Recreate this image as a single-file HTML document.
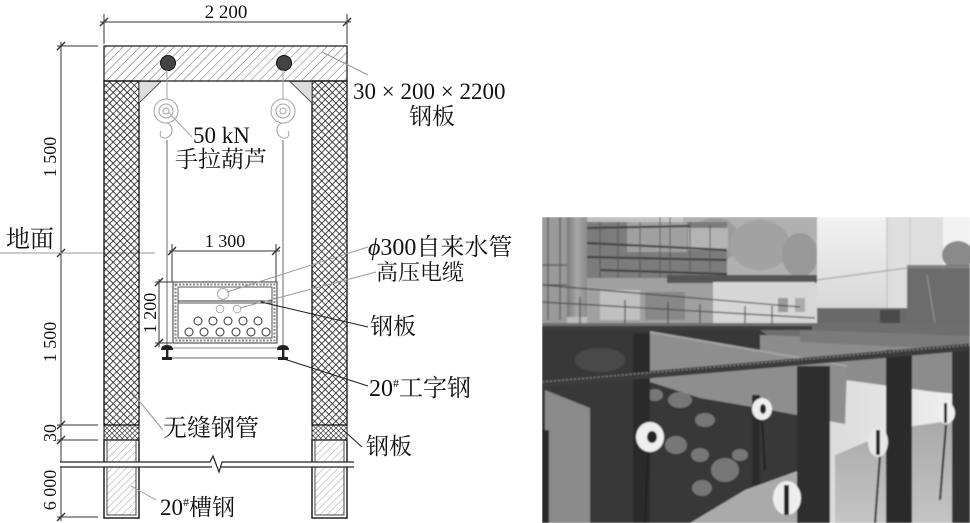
<!DOCTYPE html>
<html><head><meta charset="utf-8"><style>
html,body{margin:0;padding:0;background:#fff;}
svg{display:block;}
.t{font-family:"Liberation Serif","Noto Serif CJK SC",serif;fill:#111;}
</style></head><body>
<svg width="970" height="523" viewBox="0 0 970 523" xmlns="http://www.w3.org/2000/svg">
<defs>
<pattern id="cross" width="5" height="5" patternUnits="userSpaceOnUse" patternTransform="rotate(45)">
<path d="M0,0H5M0,0V5" stroke="#111" stroke-width="1.5"/>
</pattern>
<pattern id="crossd" width="3.6" height="3.6" patternUnits="userSpaceOnUse" patternTransform="rotate(45)">
<path d="M0,0H3.6M0,0V3.6" stroke="#111" stroke-width="1.1"/>
</pattern>
<pattern id="diag" width="6" height="6" patternUnits="userSpaceOnUse" patternTransform="rotate(45)">
<path d="M0,0V6" stroke="#555" stroke-width="0.9"/>
</pattern>
<pattern id="diag2" width="5" height="5" patternUnits="userSpaceOnUse" patternTransform="rotate(45)">
<path d="M0,0V5" stroke="#999" stroke-width="0.9"/>
</pattern>
<clipPath id="pc"><rect x="542" y="217" width="428" height="306"/></clipPath>
<filter id="bl"><feGaussianBlur stdDeviation="0.8"/></filter>
<linearGradient id="sky" x1="0" y1="0" x2="1" y2="0">
<stop offset="0" stop-color="#b8b8b8"/><stop offset="0.5" stop-color="#d0d0d0"/><stop offset="1" stop-color="#f0f0f0"/>
</linearGradient>
<linearGradient id="wb" x1="0" y1="0" x2="0" y2="1">
<stop offset="0" stop-color="#f2f2f2"/><stop offset="1" stop-color="#d6d6d6"/>
</linearGradient>
<linearGradient id="pil" x1="0" y1="0" x2="1" y2="0">
<stop offset="0" stop-color="#7a7a7a"/><stop offset="0.5" stop-color="#a8a8a8"/><stop offset="1" stop-color="#8a8a8a"/>
</linearGradient>
<linearGradient id="floor" x1="0" y1="0" x2="0" y2="1">
<stop offset="0" stop-color="#a8a8a8"/><stop offset="1" stop-color="#c4c4c4"/>
</linearGradient>
</defs>

<!-- top dimension -->
<g stroke="#333" stroke-width="1">
<line x1="100" y1="22" x2="351" y2="22"/>
<line x1="104" y1="14" x2="104" y2="44"/>
<line x1="347" y1="14" x2="347" y2="44"/>
<line x1="100" y1="26" x2="108" y2="18" stroke-width="1.4"/>
<line x1="343" y1="26" x2="351" y2="18" stroke-width="1.4"/>
</g>
<text class="t" x="226" y="18" font-size="19" text-anchor="middle">2 200</text>

<!-- left dimension -->
<g stroke="#333" stroke-width="1">
<line x1="61" y1="42" x2="61" y2="521"/>
<line x1="57" y1="46" x2="98" y2="46"/>
<line x1="57" y1="425" x2="98" y2="425"/>
<line x1="57" y1="440" x2="98" y2="440"/>
<line x1="57" y1="517" x2="98" y2="517"/>
<line x1="57" y1="50" x2="65" y2="42" stroke-width="1.4"/>
<line x1="57" y1="257" x2="65" y2="249" stroke-width="1.4"/>
<line x1="57" y1="429" x2="65" y2="421" stroke-width="1.4"/>
<line x1="57" y1="444" x2="65" y2="436" stroke-width="1.4"/>
<line x1="57" y1="521" x2="65" y2="513" stroke-width="1.4"/>
</g>
<line x1="0" y1="253" x2="155" y2="253" stroke="#999" stroke-width="1"/>
<text class="t" font-size="18" text-anchor="middle" transform="translate(56,157) rotate(-90)">1 500</text>
<text class="t" font-size="18" text-anchor="middle" transform="translate(56,342) rotate(-90)">1 500</text>
<text class="t" font-size="18" text-anchor="middle" transform="translate(56,433) rotate(-90)">30</text>
<text class="t" font-size="18" text-anchor="middle" transform="translate(56,490) rotate(-90)">6 000</text>
<text class="t" x="6" y="247" font-size="24">地面</text>

<!-- beam -->
<rect x="104" y="46" width="243" height="35" fill="#fff"/>
<rect x="104" y="46" width="243" height="35" fill="url(#diag)" stroke="#222" stroke-width="1.3"/>
<circle cx="168" cy="63" r="7.5" fill="#444" stroke="#111" stroke-width="1"/>
<circle cx="284" cy="63" r="7.5" fill="#444" stroke="#111" stroke-width="1"/>

<!-- columns -->
<rect x="104" y="81" width="35" height="344" fill="url(#cross)" stroke="#111" stroke-width="1.3"/>
<rect x="312" y="81" width="35" height="344" fill="url(#cross)" stroke="#111" stroke-width="1.3"/>
<rect x="104" y="425" width="35" height="15" fill="url(#crossd)" stroke="#111" stroke-width="1"/>
<rect x="312" y="425" width="35" height="15" fill="url(#crossd)" stroke="#111" stroke-width="1"/>
<g>
<rect x="104" y="440" width="35" height="78" fill="#fff" stroke="#222" stroke-width="1.5"/>
<rect x="107" y="440" width="29" height="75" fill="url(#diag2)" stroke="#444" stroke-width="1"/>
<rect x="312" y="440" width="35" height="78" fill="#fff" stroke="#222" stroke-width="1.5"/>
<rect x="315" y="440" width="29" height="75" fill="url(#diag2)" stroke="#444" stroke-width="1"/>
</g>
<!-- break -->
<rect x="60" y="462" width="294" height="5" fill="#fff"/>
<path d="M60,462 H210 L213,456 L219,472 L222,462 H354" fill="none" stroke="#222" stroke-width="1.2"/>
<path d="M60,467 H212 M221,467 H354" fill="none" stroke="#222" stroke-width="1.2"/>

<!-- gussets -->
<polygon points="139,81.5 161,81.5 139,103" fill="#ddd" stroke="#333" stroke-width="0.8"/>
<polygon points="312,81.5 290,81.5 312,103" fill="#ddd" stroke="#333" stroke-width="0.8"/>

<!-- hoists -->
<g fill="none" stroke="#aaa" stroke-width="1.1">
<line x1="167" y1="70" x2="167" y2="99"/>
<circle cx="166" cy="111" r="12"/>
<circle cx="166" cy="111" r="7"/>
<circle cx="166" cy="111" r="3"/>
<path d="M166,123 C174,124 174,136 166,138 C161,139 159,135 161,131"/>
<line x1="283" y1="70" x2="283" y2="99"/>
<circle cx="283" cy="111" r="12"/>
<circle cx="283" cy="111" r="7"/>
<circle cx="283" cy="111" r="3"/>
<path d="M283,123 C275,124 275,136 283,138 C288,139 290,135 288,131"/>
<line x1="168" y1="112" x2="192" y2="137"/>
</g>
<g stroke="#777" stroke-width="1.1">
<line x1="167" y1="140" x2="167" y2="346"/>
<line x1="283" y1="140" x2="283" y2="346"/>
</g>
<text class="t" x="193" y="143" font-size="23">50 kN</text>
<text class="t" x="175" y="167" font-size="23">手拉葫芦</text>

<!-- 1300 dim -->
<g stroke="#333" stroke-width="1">
<line x1="169" y1="251" x2="280" y2="251"/>
<line x1="172" y1="244" x2="172" y2="282"/>
<line x1="276" y1="244" x2="276" y2="282"/>
<line x1="168" y1="255" x2="176" y2="247" stroke-width="1.4"/>
<line x1="272" y1="255" x2="280" y2="247" stroke-width="1.4"/>
</g>
<text class="t" x="225" y="247" font-size="18" text-anchor="middle">1 300</text>
<!-- 1200 dim -->
<g stroke="#333" stroke-width="1">
<line x1="159" y1="279" x2="159" y2="347"/>
<line x1="155" y1="282" x2="172" y2="282"/>
<line x1="155" y1="343" x2="172" y2="343"/>
<line x1="155" y1="286" x2="163" y2="278" stroke-width="1.4"/>
<line x1="155" y1="347" x2="163" y2="339" stroke-width="1.4"/>
</g>
<text class="t" font-size="18" text-anchor="middle" transform="translate(156,313) rotate(-90)">1 200</text>

<!-- box -->
<rect x="173" y="282" width="104" height="61" fill="#fff" stroke="#555" stroke-width="1.2"/>
<rect x="175.5" y="284.5" width="99" height="56" fill="none" stroke="#888" stroke-width="2" stroke-dasharray="2 1.5"/>
<rect x="178" y="287" width="94" height="51" fill="#fff" stroke="#555" stroke-width="1"/>
<line x1="178" y1="301" x2="272" y2="301" stroke="#333" stroke-width="1"/>
<line x1="178" y1="303" x2="272" y2="303" stroke="#555" stroke-width="1"/>
<circle cx="223" cy="294" r="5.5" fill="none" stroke="#aaa" stroke-width="1"/>
<circle cx="220" cy="309" r="3.8" fill="none" stroke="#aaa" stroke-width="1"/>
<circle cx="237" cy="309" r="3.8" fill="none" stroke="#aaa" stroke-width="1"/>
<g fill="none" stroke="#333" stroke-width="1">
<circle cx="198" cy="321" r="4"/><circle cx="213" cy="321" r="4"/><circle cx="228" cy="321" r="4"/><circle cx="243" cy="321" r="4"/><circle cx="258" cy="321" r="4"/>
<circle cx="189" cy="332" r="4"/><circle cx="204" cy="332" r="4"/><circle cx="220" cy="332" r="4"/><circle cx="236" cy="332" r="4"/><circle cx="251" cy="332" r="4"/><circle cx="266" cy="332" r="4"/>
</g>
<line x1="170" y1="348" x2="281" y2="348" stroke="#888" stroke-width="1"/>
<line x1="170" y1="358" x2="283" y2="358" stroke="#888" stroke-width="1.2"/>
<g fill="#222">
<path d="M161,350 Q161,345 167,345 Q173,345 173,350 Z"/>
<rect x="166" y="349" width="2.4" height="9"/>
<rect x="162" y="357" width="10" height="3"/>
<path d="M277,350 Q277,345 283,345 Q289,345 289,350 Z"/>
<rect x="282" y="349" width="2.4" height="9"/>
<rect x="278" y="357" width="10" height="3"/>
</g>

<!-- leaders -->
<g stroke="#999" stroke-width="1" fill="none">
<line x1="322" y1="52" x2="368" y2="75"/>
<line x1="227" y1="292" x2="368" y2="247"/>
<line x1="240" y1="308" x2="376" y2="272"/>
<line x1="131" y1="391" x2="163" y2="430"/>
<line x1="131" y1="486" x2="156" y2="500"/>
</g>
<g stroke="#222" stroke-width="1.1" fill="none">
<line x1="261" y1="302" x2="368" y2="327"/>
<line x1="284" y1="359" x2="368" y2="386"/>
<line x1="342" y1="429" x2="362" y2="447"/>
</g>

<!-- labels -->
<text class="t" x="353" y="99" font-size="23">30 × 200 × 2200</text>
<text class="t" x="409" y="124" font-size="23">钢板</text>
<text class="t" x="368" y="255" font-size="24"><tspan font-style="italic">ϕ</tspan>300自来水管</text>
<text class="t" x="376" y="280" font-size="22">高压电缆</text>
<text class="t" x="370" y="334" font-size="23">钢板</text>
<text class="t" x="369" y="396" font-size="24">20<tspan font-size="12" dy="-9">#</tspan><tspan dy="9">工字钢</tspan></text>
<text class="t" x="366" y="454" font-size="23">钢板</text>
<text class="t" x="163" y="436" font-size="24">无缝钢管</text>
<text class="t" x="160" y="515" font-size="23">20<tspan font-size="12" dy="-9">#</tspan><tspan dy="9">槽钢</tspan></text>

<!-- PHOTO -->
<g clip-path="url(#pc)">
<g filter="url(#bl)">
<rect x="542" y="217" width="428" height="306" fill="url(#sky)"/>
<rect x="542" y="217" width="25" height="110" fill="#9a9a9a"/>
<g stroke="#555" stroke-width="1.2">
<line x1="548" y1="217" x2="548" y2="320"/><line x1="560" y1="217" x2="560" y2="320"/>
<line x1="542" y1="265" x2="567" y2="265"/><line x1="542" y1="285" x2="567" y2="285"/>
</g>
<rect x="683" y="217" width="135" height="62" fill="#b0b0b0"/>
<ellipse cx="715" cy="240" rx="25" ry="22" fill="#9c9c9c"/>
<ellipse cx="760" cy="245" rx="30" ry="25" fill="#a2a2a2"/>
<ellipse cx="800" cy="255" rx="18" ry="22" fill="#999"/>
<rect x="587" y="222" width="140" height="56" fill="#7c7c7c"/>
<rect x="627" y="222" width="60" height="30" fill="#a0a0a0"/>
<rect x="688" y="228" width="40" height="22" fill="#b4b4b4"/>
<g stroke="#3a3a3a" stroke-width="2">
<line x1="587" y1="228" x2="690" y2="226"/>
<line x1="587" y1="243" x2="727" y2="250"/>
<line x1="587" y1="257" x2="727" y2="260"/>
<line x1="600" y1="270" x2="727" y2="274"/>
</g>
<g stroke="#555" stroke-width="1">
<line x1="600" y1="222" x2="600" y2="300"/><line x1="618" y1="222" x2="618" y2="300"/>
<line x1="640" y1="222" x2="640" y2="300"/><line x1="660" y1="217" x2="660" y2="300"/>
<line x1="670" y1="217" x2="670" y2="300"/><line x1="690" y1="222" x2="690" y2="300"/>
<line x1="710" y1="225" x2="710" y2="300"/>
</g>
<rect x="587" y="278" width="126" height="45" fill="#a0a0a0"/>
<rect x="600" y="290" width="40" height="30" fill="#c0c0c0"/>
<rect x="645" y="292" width="40" height="28" fill="#888"/>
<rect x="667" y="275" width="150" height="8" fill="#555"/>
<rect x="567" y="217" width="20" height="100" fill="url(#pil)"/>
<rect x="713" y="282" width="102" height="43" fill="#d6d6d6"/>
<rect x="778" y="298" width="10" height="14" fill="#999"/>
<rect x="795" y="298" width="10" height="14" fill="#aaa"/>
<rect x="817" y="217" width="126" height="95" fill="url(#wb)"/>
<rect x="887" y="217" width="56" height="95" fill="#dedede"/>
<line x1="887" y1="217" x2="887" y2="312" stroke="#bbb" stroke-width="1"/>
<line x1="910" y1="217" x2="910" y2="312" stroke="#c6c6c6" stroke-width="1"/>
<line x1="817" y1="280" x2="907" y2="268" stroke="#999" stroke-width="1"/>
<rect x="943" y="217" width="27" height="30" fill="#f2f2f2"/>
<ellipse cx="958" cy="255" rx="16" ry="14" fill="#8a8a8a"/>
<rect x="907" y="265" width="63" height="72" fill="#6c6c6c"/>
<line x1="907" y1="267" x2="970" y2="267" stroke="#888" stroke-width="2"/>
<line x1="927" y1="275" x2="937" y2="335" stroke="#999" stroke-width="1"/>
<rect x="817" y="308" width="90" height="20" fill="#6a6a6a"/>
<rect x="880" y="310" width="20" height="25" fill="#4a4a4a"/>
<g stroke="#4a4a4a" stroke-width="1.2">
<line x1="542" y1="285" x2="800" y2="307"/>
<line x1="542" y1="302" x2="815" y2="318"/>
<line x1="580" y1="297" x2="580" y2="325"/><line x1="625" y1="300" x2="625" y2="325"/>
<line x1="668" y1="302" x2="668" y2="325"/><line x1="700" y1="304" x2="700" y2="325"/>
<line x1="745" y1="306" x2="745" y2="325"/><line x1="772" y1="306" x2="772" y2="325"/>
</g>
<rect x="542" y="323" width="428" height="25" fill="#6e6e6e"/>
<rect x="542" y="326" width="270" height="4" fill="#3e3e3e"/>
<polygon points="542,330 760,330 800,360 830,430 800,523 542,523" fill="#383838"/>
<g fill="#777">
<ellipse cx="680" cy="400" rx="12" ry="8"/>
<ellipse cx="705" cy="420" rx="10" ry="7"/>
<ellipse cx="676" cy="445" rx="11" ry="9"/>
<ellipse cx="700" cy="455" rx="9" ry="7"/>
<ellipse cx="725" cy="470" rx="14" ry="12"/>
<ellipse cx="702" cy="488" rx="10" ry="8"/>
<ellipse cx="740" cy="455" rx="8" ry="6"/>
<ellipse cx="655" cy="395" rx="8" ry="6"/>
</g>
<ellipse cx="600" cy="360" rx="25" ry="12" fill="#4a4a4a"/>
<polygon points="760,335 970,342 970,395 935,392 845,380 760,360" fill="#8c8c8c"/>
<polygon points="800,330 970,336 970,350 800,342" fill="#7a7a7a"/>
<polygon points="650,332 847,366 845,424 770,410 700,398 650,382" fill="#8e8e8e"/>
<line x1="650" y1="332" x2="847" y2="366" stroke="#a4a4a4" stroke-width="2"/>
<polygon points="835,455 900,428 970,418 970,523 835,523" fill="url(#floor)"/>
<polygon points="690,523 745,490 800,470 805,523" fill="#aaa"/>
<polygon points="545,390 590,408 590,523 545,523" fill="#8a8a8a"/>
<rect x="542" y="430" width="7" height="93" fill="#2a2a2a"/>
<rect x="633" y="333" width="17" height="190" fill="#2a2a2a"/>
<rect x="797" y="366" width="33" height="157" fill="#2e2e2e"/>
<rect x="886" y="350" width="26" height="173" fill="#2c2c2c"/>
<rect x="952" y="350" width="18" height="173" fill="#333"/>
<rect x="752" y="395" width="8" height="90" fill="#2a2a2a"/>
<line x1="542" y1="384" x2="970" y2="347" stroke="#3a3a3a" stroke-width="7"/>
<line x1="542" y1="382" x2="970" y2="345" stroke="#888" stroke-width="1.2" stroke-dasharray="2 2"/>
<g stroke="#222" stroke-width="2">
<line x1="648" y1="450" x2="645" y2="523"/>
<line x1="762" y1="420" x2="765" y2="470"/>
<line x1="880" y1="455" x2="875" y2="523"/>
<line x1="946" y1="425" x2="940" y2="500"/>
</g>
<ellipse cx="650" cy="437" rx="14" ry="15" fill="#eee"/>
<ellipse cx="652" cy="437" rx="5" ry="6" fill="#222"/>
<ellipse cx="762" cy="409" rx="10" ry="11" fill="#eee"/>
<ellipse cx="763" cy="409" rx="3" ry="5" fill="#222"/>
<ellipse cx="787" cy="498" rx="14" ry="17" fill="#eee"/>
<rect x="784" y="485" width="5" height="30" fill="#222"/>
<ellipse cx="878" cy="442" rx="10" ry="15" fill="#e8e8e8"/>
<rect x="876" y="430" width="4" height="25" fill="#222"/>
<ellipse cx="946" cy="413" rx="9" ry="11" fill="#eee"/>
<rect x="944" y="403" width="3" height="20" fill="#222"/>
</g>
</g>
</svg>
</body></html>
